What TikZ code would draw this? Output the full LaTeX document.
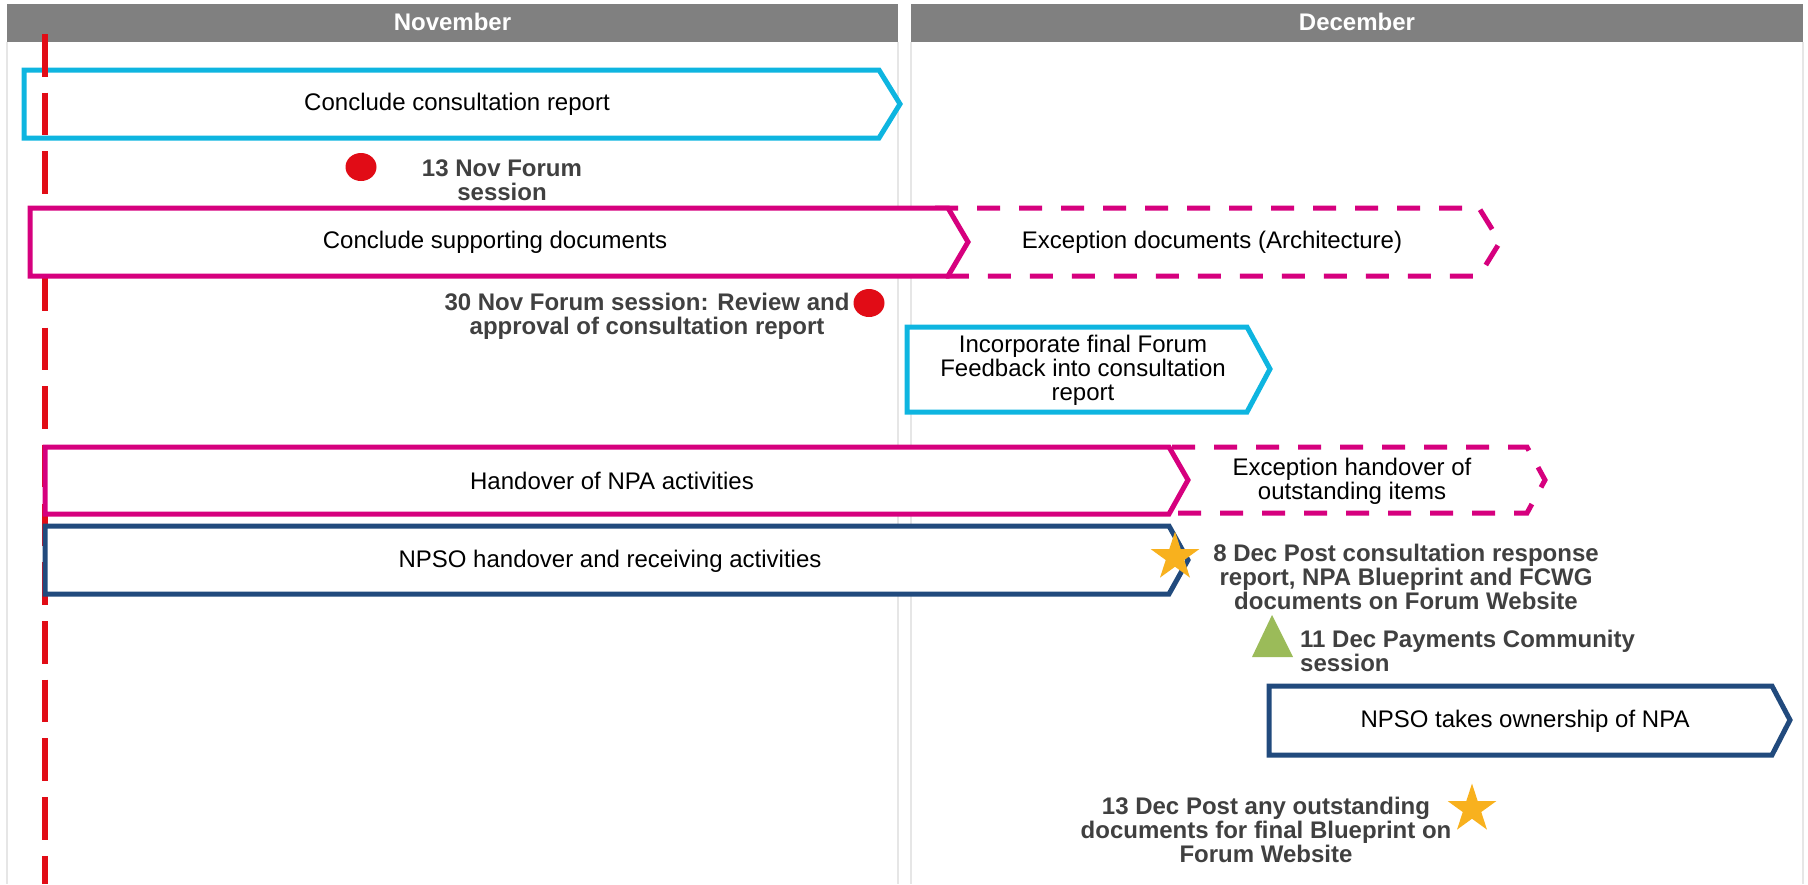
\documentclass[tikz,border=0pt]{standalone}
\usepackage{fontspec}
\setmainfont{Liberation Sans}
\usetikzlibrary{shapes.geometric}

\definecolor{hdrgray}{RGB}{128,128,128}
\definecolor{colline}{RGB}{230,230,230}
\definecolor{cyanbar}{RGB}{14,181,224}
\definecolor{pinkbar}{RGB}{214,0,126}
\definecolor{navybar}{RGB}{33,74,125}
\definecolor{todayred}{RGB}{225,12,22}
\definecolor{stargold}{RGB}{248,177,30}
\definecolor{greenmark}{RGB}{155,187,89}
\definecolor{notegray}{RGB}{64,64,64}

\begin{document}
\begin{tikzpicture}[x=1pt,y=-1pt,
  bar/.style={line width=5pt, fill=white, line join=miter},
  dashbar/.style={line width=5pt, fill=white, dash pattern=on 23pt off 19pt, line join=miter},
  lbl/.style={font=\fontsize{24}{24}\selectfont, inner sep=0pt, align=center, text=black},
  note/.style={font=\bfseries\fontsize{24}{24}\selectfont, inner sep=0pt, align=center, text=notegray},
  hdr/.style={font=\bfseries\fontsize{24}{24}\selectfont, text=white, inner sep=0pt},
  dotmark/.style={ellipse, fill=todayred, minimum width=31pt, minimum height=28pt, inner sep=0pt},
  starmark/.style={star, star points=5, star point ratio=2.618, fill=stargold, inner sep=0pt, minimum size=51pt},
]
\useasboundingbox (0,0) rectangle (1808,884);

% month header bands
\fill[hdrgray] (7,4) rectangle (898,42);
\fill[hdrgray] (911,4) rectangle (1803,42);
\node[hdr] (nov) at (452.5,22) {November};
\node[hdr] (dec) at (1357,22) {December};

% column borders
\draw[colline, line width=1.5pt]
  (7,42) -- (7,884) (898,42) -- (898,884)
  (911,42) -- (911,884) (1803,42) -- (1803,884);

% consultation report bar
\draw[bar, draw=cyanbar] (24,70) -- (879,70) -- (900,104) -- (879,138) -- (24,138) -- cycle;
\node[lbl] (ccr) at (457,104) {Conclude consultation report};

% today marker
\draw[todayred, line width=5.3pt, dash pattern=on 42.5pt off 16.2pt] (45,34) -- (45,884);

% supporting documents and their exception tail
\draw[dashbar, draw=pinkbar] (935,208) -- (1479,208) -- (1500,242) -- (1479,276) -- (935,276) -- (955,242) -- cycle;
\draw[bar, draw=pinkbar] (30,208) -- (948,208) -- (968,242) -- (948,276) -- (30,276) -- cycle;
\node[lbl] (csd) at (495,242) {Conclude supporting documents};
\node[lbl] (exd) at (1212,242) {Exception documents (Architecture)};

% forum sessions
\node[dotmark] (dot13) at (361,167) {};
\node[note] (n13) at (502,180) {13 Nov Forum\\session};
\node[dotmark] (dot30) at (869,303) {};
\node[note] (n30) at (647,316) {30 Nov Forum session: Review and\\approval of consultation report};

% final feedback
\draw[bar, draw=cyanbar] (907,327) -- (1247,327) -- (1270,369) -- (1247,412) -- (907,412) -- cycle;
\node[lbl] (inc) at (1083,370) {Incorporate final Forum\\Feedback into consultation\\report};

% handover of activities and its exception tail
\draw[dashbar, draw=pinkbar, dash phase=36pt] (1166,447) -- (1527,447) -- (1545,480) -- (1527,513) -- (1166,513) -- (1186,480) -- cycle;
\draw[bar, draw=pinkbar] (45,447) -- (1169,447) -- (1188,480) -- (1169,514) -- (45,514) -- cycle;
\node[lbl] (hov) at (612,481) {Handover of NPA activities};
\node[lbl] (exh) at (1352,481) {Exception handover of\\outstanding items};

% NPSO handover
\draw[bar, draw=navybar] (45,526) -- (1169,526) -- (1188,560) -- (1169,594) -- (45,594) -- cycle;
\node[lbl] (npso) at (610,561) {NPSO handover and receiving activities};

% 8 Dec publication
\node[starmark] (star8) at (1175,557) {};
\node[note] (n8) at (1406,577) {8 Dec Post consultation response\\report, NPA Blueprint and FCWG\\documents on Forum Website};

% 11 Dec community session
\fill[greenmark] (1272,615) -- (1293,657) -- (1252,657) -- cycle;
\node[note, align=left, anchor=west] (n11) at (1300,651) {11 Dec Payments Community\\session};

% NPSO ownership
\draw[bar, draw=navybar] (1269,686) -- (1772,686) -- (1790,720) -- (1772,755) -- (1269,755) -- cycle;
\node[lbl] (own) at (1525,721) {NPSO takes ownership of NPA};

% 13 Dec publication
\node[starmark] (star13) at (1472,809) {};
\node[note] (n13d) at (1266,830) {13 Dec Post any outstanding\\documents for final Blueprint on\\Forum Website};

\end{tikzpicture}
\end{document}
